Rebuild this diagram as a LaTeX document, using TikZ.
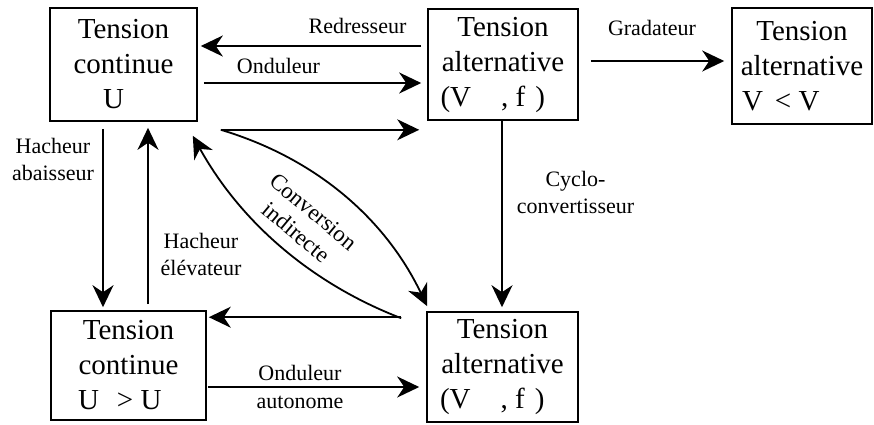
\documentclass[tikz,border=0pt]{standalone}
\usepackage{fontspec}
\setmainfont{Liberation Serif}
\usetikzlibrary{arrows.meta,calc}
\begin{document}
\begin{tikzpicture}[x=1pt,y=-1pt,
  box/.style={draw,line width=1.6pt,align=center,inner sep=0pt,font=\fontsize{29}{35}\selectfont},
  lbl/.style={align=center,inner sep=0pt,font=\fontsize{22}{27}\selectfont},
  arr/.style={line width=1.8pt,-{Stealth[length=22pt,width=21pt,inset=7pt]}}]
\useasboundingbox (0,0) rectangle (874,424);
% boxes
\node[box,minimum width=147pt,minimum height=113pt] (A) at (123.5,64.5) {Tension\\continue\\U\makebox[20pt]{}};
\node[box,minimum width=150pt,minimum height=111pt] (B) at (503,64.5) {Tension\\alternative\\\makebox[125pt][l]{(V\hspace{30pt}, f\hspace{10pt})}};
\node[box,minimum width=140pt,minimum height=116pt] (C) at (802,66) {Tension\\alternative\\\makebox[120pt][l]{V\hspace{12pt}< V}};
\node[box,minimum width=155pt,minimum height=109pt] (D) at (128.5,365.5) {Tension\\continue\\\makebox[101pt][l]{U\hspace{18pt}> U}};
\node[box,minimum width=151pt,minimum height=110pt] (E) at (502.5,367) {Tension\\alternative\\\makebox[125pt][l]{(V\hspace{30pt}, f\hspace{10pt})}};
% straight connectors
\draw[arr] ($(B.west)+(-6,-18.5)$) -- ($(A.east)+(3,-18.5)$);
\draw[arr] ($(A.east)+(6,18.5)$) -- ($(B.west)+(-6,18.5)$);
\draw[arr] ($(B.east)+(12,-3.5)$) -- ($(C.west)+(-7,-5)$);
\draw[arr] ($(A.south east)+(23,8)$) -- ($(B.south west)+(-8,9)$);
\draw[arr] ($(A.south)+(-20.5,7)$) -- ($(D.north)+(-25.5,-3)$);
\draw[arr] ($(D.north)+(19.5,-6)$) -- ($(A.south)+(24.5,6)$);
\draw[arr] ($(B.south)+(-1,0)$) -- ($(E.north)+(-0.5,-4)$);
\draw[arr] ($(E.north west)+(-25,6)$) -- ($(D.north east)+(2,7)$);
\draw[arr] ($(D.east)+(1,21.5)$) -- ($(E.west)+(-7,20)$);
% curved connectors
\draw[arr] ($(A.south east)+(23,8)$) .. controls (315,158) and (385,218) .. ($(E.north west)+(1,-5)$);
\draw[arr] ($(E.north west)+(-25,7)$) .. controls (310,283) and (240,221) .. ($(A.south east)+(-5,14)$);
% labels
\node[lbl,anchor=base] (lr) at (357.5,33) {Redresseur};
\node[lbl,anchor=base] (lo) at (278.5,73) {Onduleur};
\node[lbl,anchor=base] (lg) at (652,35) {Gradateur};
\node[lbl] (lha) at (53,159) {Hacheur\\abaisseur};
\node[lbl] (lhe) at (201,254) {Hacheur\\élévateur};
\node[lbl] (lc) at (575.5,192.5) {Cyclo-\\convertisseur};
\node[lbl,font=\fontsize{22}{28}\selectfont] (loa) at (300,387) {Onduleur\\autonome};
\node[lbl,font=\fontsize{23}{27}\selectfont,rotate=-40] (lci) at (305,222) {Conversion\\indirecte};
\end{tikzpicture}
\end{document}
